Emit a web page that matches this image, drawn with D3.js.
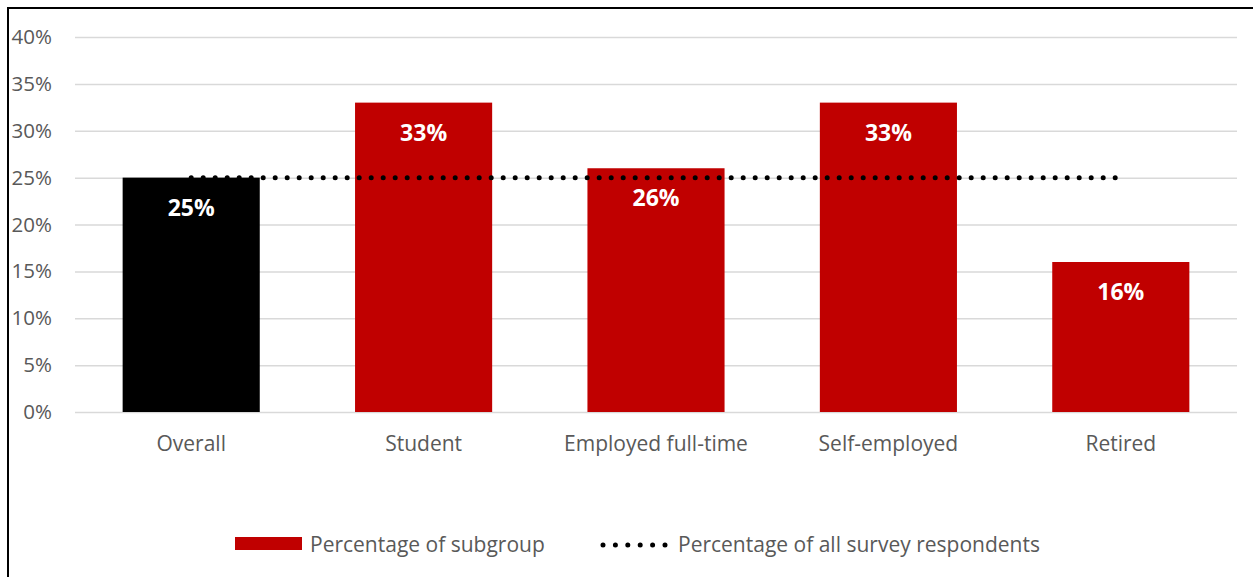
<!DOCTYPE html>
<html>
<head>
<meta charset="utf-8">
<script src="https://cdn.jsdelivr.net/npm/d3@7"></script>
<style>
  html, body { margin: 0; padding: 0; background: #fff; }
  svg { display: block; font-family: "Open Sans", sans-serif; }
</style>
</head>
<body>
<svg id="chart" width="1253" height="577"></svg>
<script>
// Share of each group, in percent
const categories = ["Overall", "Student", "Employed full-time", "Self-employed", "Retired"];
const subgroupValues = [25, 33, 26, 33, 16];
const allRespondents = [25, 25, 25, 25, 25];
const yTicks = [0, 5, 10, 15, 20, 25, 30, 35, 40];
const legendLabels = ["Percentage of subgroup", "Percentage of all survey respondents"];

const svg = d3.select("#chart");
const W = 1253, H = 577;
const margin = { left: 75, right: 16, top: 37, bottom: 165 };

// Chart frame
svg.append("path")
  .attr("d", `M8,${H} L8,8 L${W},8`)
  .attr("fill", "none").attr("stroke", "#000").attr("stroke-width", 2);

const x = d3.scaleBand().domain(categories)
  .range([margin.left, W - margin.right]).paddingInner(0.41).paddingOuter(0.205);
const y = d3.scaleLinear().domain([0, 40]).range([H - margin.bottom, margin.top]);

// Gridlines and y labels
const yAxis = d3.axisLeft(y).tickValues(yTicks).tickFormat(d => d + "%")
  .tickSize(-(W - margin.right - margin.left)).tickPadding(23);
const gy = svg.append("g").attr("transform", `translate(${margin.left},0)`).call(yAxis);
gy.select(".domain").remove();
gy.selectAll(".tick line").attr("stroke", "#d9d9d9").attr("stroke-width", 1.5);
gy.selectAll(".tick text").attr("fill", "#595959").attr("font-size", 20.5)
  .attr("font-family", "'Open Sans', sans-serif");

// Bars
svg.append("g").selectAll("rect").data(categories).join("rect")
  .attr("x", d => x(d))
  .attr("width", x.bandwidth())
  .attr("y", (d, i) => y(subgroupValues[i]))
  .attr("height", (d, i) => y(0) - y(subgroupValues[i]))
  .attr("fill", (d, i) => i === 0 ? "#000000" : "#c00000");

// Reference line for all respondents
const line = d3.line()
  .x((d, i) => x(categories[i]) + x.bandwidth() / 2)
  .y(d => y(d));
svg.append("path").datum(allRespondents)
  .attr("d", line)
  .attr("fill", "none").attr("stroke", "#000")
  .attr("stroke-width", 5).attr("stroke-linecap", "round")
  .attr("stroke-dasharray", "0 12");

// Value labels inside bars
svg.append("g").selectAll("text").data(categories).join("text")
  .attr("x", d => x(d) + x.bandwidth() / 2)
  .attr("y", (d, i) => y(subgroupValues[i]) + 38)
  .attr("text-anchor", "middle")
  .attr("fill", "#fff").attr("font-weight", "bold").attr("font-size", 23)
  .text((d, i) => subgroupValues[i] + "%");

// Category labels
const xAxis = d3.axisBottom(x).tickSize(0).tickPadding(24);
const gx = svg.append("g").attr("transform", `translate(0,${y(0)})`).call(xAxis);
gx.select(".domain").remove();
gx.selectAll(".tick text").attr("fill", "#595959").attr("font-size", 21)
  .attr("font-family", "'Open Sans', sans-serif");

// Legend
const lg = svg.append("g");
lg.append("rect").attr("x", 235).attr("y", 537).attr("width", 67).attr("height", 13).attr("fill", "#c00000");
lg.append("text").attr("x", 310).attr("y", 552).attr("fill", "#595959").attr("font-size", 21).text(legendLabels[0]);
lg.append("line").attr("x1", 603).attr("x2", 665).attr("y1", 545).attr("y2", 545)
  .attr("stroke", "#000").attr("stroke-width", 5).attr("stroke-linecap", "round")
  .attr("stroke-dasharray", "0 12.4");
lg.append("text").attr("x", 678).attr("y", 552).attr("fill", "#595959").attr("font-size", 21).text(legendLabels[1]);
</script>
</body>
</html>
